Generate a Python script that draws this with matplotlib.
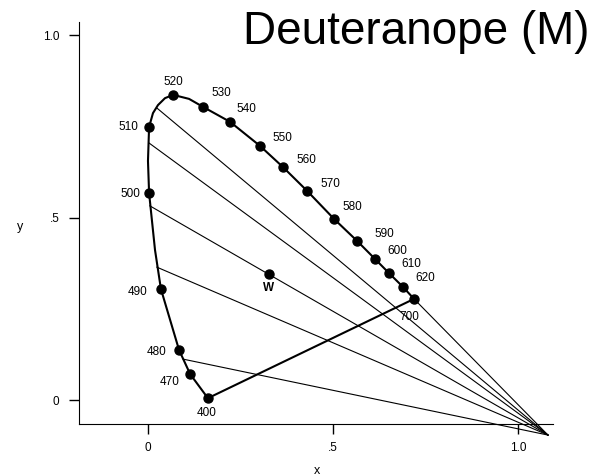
import numpy as np
import matplotlib.pyplot as plt

plt.rcParams['font.family'] = ['Liberation Sans', 'DejaVu Sans']

# spectral locus (nm, x, y); the unlabelled points (0) only keep the curve round
locus_nm = [400, 470, 480, 490, 495, 500, 505, 510, 0, 0, 0, 520, 525, 530,
            540, 550, 560, 570, 580, 590, 600, 610, 620, 700]
locus_x = [0.162, 0.114, 0.084, 0.035, 0.019, 0.003, 0.000, 0.003, 0.0135, 0.027, 0.046, 0.068,
           0.111, 0.149, 0.222, 0.303, 0.365, 0.430, 0.503, 0.565, 0.614, 0.651, 0.689, 0.719]
locus_y = [0.005, 0.071, 0.137, 0.304, 0.411, 0.567, 0.655, 0.748, 0.786, 0.808, 0.827, 0.836,
           0.825, 0.803, 0.762, 0.696, 0.638, 0.573, 0.496, 0.436, 0.386, 0.348, 0.310, 0.277]
marked_nm = [400, 470, 480, 490, 500, 510, 520, 530, 540, 550, 560, 570,
             580, 590, 600, 610, 620, 700]

white_x, white_y = 0.327, 0.345

# deuteranope copunctal point and where each confusion line leaves the locus
copunct_x, copunct_y = 1.081, -0.096
conf_x = [0.024, 0.003, 0.005, 0.024, 0.095, 0.719]
conf_y = [0.800, 0.704, 0.532, 0.364, 0.112, 0.277]

# label offsets in points (dx, dy)
offsets = {400: (-0.7, -10.8), 470: (-15, -5.8), 480: (-16, -1.4), 490: (-16.5, -2),
           500: (-13.7, -0.7), 510: (-15, 0), 520: (0, 9.4), 530: (13, 10),
           540: (12, 9.4), 550: (16, 5.8), 560: (17, 5), 570: (17, 5),
           580: (13, 8.6), 590: (19.4, 5), 600: (16, 5.8), 610: (16, 6.5),
           620: (16, 6.5), 700: (-3.6, -13)}

fig = plt.figure(figsize=(6.05, 4.76), dpi=100)
ax = fig.add_axes([0.0917, 0.0446, 0.8868, 0.9202])
ax.set_xlim(-0.25, 1.2)
ax.set_ylim(-0.15, 1.05)

# confusion lines
for x0, y0 in zip(conf_x, conf_y):
    ax.plot([x0, copunct_x], [y0, copunct_y], color='black', lw=0.8)

# locus and purple line
ax.plot(locus_x, locus_y, color='black', lw=1.5, solid_joinstyle='round')
ax.plot([locus_x[0], locus_x[-1]], [locus_y[0], locus_y[-1]], color='black', lw=1.5)

lookup = dict(zip(locus_nm, zip(locus_x, locus_y)))
for nm in marked_nm:
    px, py = lookup[nm]
    ax.plot(px, py, 'o', color='black', ms=6.5)
    ax.annotate(str(nm), (px, py), xytext=offsets[nm], textcoords='offset points',
                ha='center', va='center', fontsize=8.5)

ax.plot(white_x, white_y, 'o', color='black', ms=6.5)
ax.annotate('W', (white_x, white_y), xytext=(0, -10), textcoords='offset points',
            ha='center', va='center', fontsize=8.5, fontweight='bold')

for side in ['top', 'right']:
    ax.spines[side].set_visible(False)
ax.spines['left'].set_position(('data', -0.1865))
ax.spines['left'].set_bounds(-0.066, 1.036)
ax.spines['bottom'].set_position(('data', -0.066))
ax.spines['bottom'].set_bounds(-0.1865, 1.095)

ax.set_xticks([0, 0.5, 1.0])
ax.set_xticklabels(['0', '.5', '1.0'])
ax.set_yticks([0, 0.5, 1.0])
ax.set_yticklabels(['0', '.5', '1.0'])
ax.tick_params(axis='both', direction='out', length=7.2, width=1, labelsize=8.5)
ax.tick_params(axis='y', pad=7)
ax.tick_params(axis='x', pad=6)

fig.text(20 / 605, 1 - 227 / 476, 'y', ha='center', va='center', fontsize=9)
fig.text(317 / 605, 1 - 471 / 476, 'x', ha='center', va='center', fontsize=9)
fig.text(243 / 605, 1 - 44 / 476, 'Deuteranope (M)', ha='left', va='baseline', fontsize=33)

fig.savefig('out.png', dpi=100)
